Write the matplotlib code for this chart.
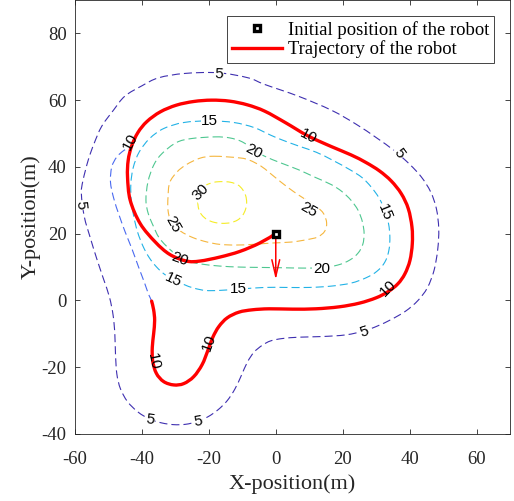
import matplotlib
matplotlib.use("Agg")
import matplotlib.pyplot as plt
import numpy as np
from matplotlib.lines import Line2D
from matplotlib.patches import PathPatch
from matplotlib.path import Path

plt.rcParams["lines.scale_dashes"] = False
plt.rcParams["axes.unicode_minus"] = False

# ----- datos -----

levels = [5, 10, 15, 20, 25, 30]
level_colors = ["#3e2fb0", "#4a6af0", "#22b2e6", "#4ec790", "#f5b63e", "#f5ec26"]

c5_x = [-17.2, -8.3, -3.3, 6.7, 16.6, 24.0, 30.0, 35.5, 40.0, 43.5, 46.3, 48.0, 48.7, 48.4, 47.3,
        45.3, 42.5, 38.8, 34.5, 30.5, 26.5, 21.0, 14.0, 7.0, 2.0, -1.5, -4.0, -6.5, -8.5, -10.3,
        -12.2, -14.5, -17.2, -20.2, -23.5, -27.0, -30.5, -34.0, -37.6, -41.2, -44.3, -46.4, -47.5,
        -47.9, -48.1, -48.6, -49.7, -51.5, -53.5, -55.5, -57.2, -58.1, -57.6, -56.0, -54.3, -52.0,
        -48.5, -45.1, -40.0, -35.0, -27.2, -17.2]
c5_y = [68.2, 66.7, 64.7, 61.2, 57.0, 52.8, 48.8, 44.8, 40.8, 37.0, 32.5, 27.5, 21.5, 15.3, 9.0,
        3.8, 0.0, -3.2, -5.7, -7.6, -9.1, -10.3, -10.8, -11.0, -11.4, -12.1, -13.4, -15.5, -18.5,
        -22.5, -26.5, -30.0, -32.7, -34.8, -36.3, -37.1, -37.2, -36.7, -35.6, -33.4, -30.3, -26.5,
        -22.0, -16.0, -10.0, -4.5, 1.0, 6.5, 12.5, 19.0, 25.0, 32.0, 36.0, 42.2, 47.0, 52.2, 57.0,
        61.2, 64.3, 66.7, 68.0, 68.2]

# contorno 10 en sentido horario desde donde el robot lo alcanza
c10_x = [-43.1, -41.2, -38.5, -34.5, -29.7, -24.5, -19.2, -13.8, -8.5, -3.3, 3.0, 9.6, 16.6, 22.5,
         27.0, 31.0, 34.5, 37.5, 39.6, 40.7, 40.8, 40.1, 38.6, 36.5, 33.5, 30.0, 25.0, 19.0, 12.0,
         5.0, -2.0, -7.0, -11.0, -14.5, -17.0, -18.8, -20.3, -22.0, -24.5, -27.5, -30.5, -33.5,
         -35.7, -36.8, -36.9, -36.5, -36.2, -36.5, -37.1,
         -38.0, -39.3, -41.0, -43.0, -45.0, -46.8, -48.4, -49.4, -49.0, -47.5, -45.3, -43.1]
c10_y = [46.2, 50.3, 53.6, 56.5, 58.5, 59.6, 60.0, 59.7, 58.6, 56.7, 53.2, 49.3, 46.1, 43.6,
         41.3, 38.8, 35.8, 32.0, 27.5, 22.0, 17.0, 12.0, 8.0, 5.0, 2.6, 0.8, -0.8, -1.9, -2.5,
         -2.6, -2.5, -2.8, -3.5, -5.2, -7.8, -11.0, -15.0, -19.2, -22.8, -24.9, -25.3, -24.3,
         -21.8, -18.0, -14.0, -10.0, -6.0, -2.8, -0.2,
         1.8, 5.5, 10.0, 15.5, 20.5, 25.5, 30.5, 35.5, 40.0, 43.0, 45.0, 46.2]
n_follow = 49  # puntos del contorno 10 que recorre el robot

c15_x = [-19.7, -12.5, -6.5, -1.5, 2.1, 7.0, 12.1, 17.0, 22.1, 25.8, 28.5, 30.8, 32.6, 33.7, 34.1,
         33.8, 32.6, 30.3, 27.0, 22.5, 16.6, 10.0, 3.0, -3.3, -11.0, -17.0, -21.0, -24.5, -27.5,
         -30.6, -33.2, -35.6, -37.8, -39.7, -41.3, -42.4, -43.2, -43.3, -42.6, -40.8, -37.7, -33.5,
         -27.5, -19.7]
c15_y = [53.8, 53.3, 51.8, 49.5, 48.0, 46.2, 44.4, 42.0, 39.2, 36.8, 34.0, 30.8, 27.0, 23.0, 19.0,
         15.0, 11.5, 8.8, 6.8, 5.2, 4.3, 3.9, 3.9, 3.9, 3.4, 3.0, 3.0, 3.7, 4.8, 6.3, 7.8, 10.0,
         12.8, 16.3, 20.5, 25.0, 30.0, 35.0, 39.8, 44.5, 48.5, 51.5, 53.3, 53.8]

c20_x = [-18.2, -13.8, -10.0, -6.8, -3.3, 1.5, 6.7, 11.5, 16.6, 19.8, 22.5, 24.6, 25.9, 26.4, 26.0,
         24.6, 22.1, 18.5, 13.6, 8.0, 2.0, -5.0, -10.7, -16.7, -22.2, -26.5, -29.5, -32.7, -35.0,
         -36.6, -38.1, -38.8, -38.2, -36.5, -34.0, -29.7, -25.2, -18.2]
c20_y = [49.0, 48.7, 47.5, 45.2, 43.2, 41.2, 39.2, 37.0, 34.7, 32.6, 30.0, 27.0, 23.5, 20.0, 16.8,
         14.2, 12.1, 10.6, 9.8, 9.7, 9.8, 9.9, 10.0, 10.3, 10.9, 11.8, 13.5, 16.3, 19.0, 22.3, 26.0,
         30.0, 35.5, 40.5, 44.0, 47.3, 48.5, 49.0]

c25_x = [-18.5, -10.8, -7.8, -4.5, -1.8, 1.5, 5.2, 8.5, 12.1, 14.3, 15.2, 14.6, 12.5, 9.2, 4.7, -1.3,
         -6.8, -12.0, -16.7, -20.5, -24.7, -28.5, -31.2, -32.2, -32.2, -31.7, -29.5, -26.7, -22.7, -18.5]
c25_y = [43.2, 42.7, 42.0, 40.3, 38.2, 35.5, 32.7, 30.5, 28.2, 26.0, 23.2, 20.7, 19.0, 18.2, 17.5, 17.2,
         16.8, 16.6, 16.8, 17.5, 18.8, 20.8, 23.5, 27.0, 31.0, 35.3, 38.5, 40.7, 42.6, 43.2]

c30_x = [-8.7, -9.0, -9.9, -11.3, -13.5, -16.0, -18.5, -20.7, -22.3, -23.1, -23.3, -23.0, -22.1, -20.5,
         -18.4, -16.0, -13.5, -11.4, -9.9, -9.0, -8.7]
c30_y = [29.4, 31.4, 33.2, 34.6, 35.4, 35.6, 35.4, 34.6, 33.2, 31.4, 29.4, 27.3, 25.6, 24.2, 23.4, 23.1,
         23.3, 24.1, 25.5, 27.4, 29.4]

contour_x = [c5_x, c10_x, c15_x, c20_x, c25_x, c30_x]
contour_y = [c5_y, c10_y, c15_y, c20_y, c25_y, c30_y]

# etiquetas de los contornos: texto, x, y, rotacion
label_text = ["5", "5", "5", "5", "5", "5",
              "10", "10", "10", "10", "10",
              "15", "15", "15", "15",
              "20", "20", "20",
              "25", "25", "30"]
label_x = [-17.0, -58.4, 36.8, 26.5, -23.2, -37.6,
           -43.6, 9.6, 33.5, -19.8, -36.6,
           -19.7, 32.7, -11.2, -30.6,
           -6.5, 13.6, -28.7,
           -30.6, 9.8, -22.4]
label_y = [67.9, 28.5, 44.2, -9.3, -36.3, -35.8,
           47.7, 49.1, 3.8, -12.5, -18.3,
           53.7, 26.5, 3.5, 6.0,
           44.7, 9.4, 12.3,
           22.8, 27.3, 32.3]
label_rot = [-3, -85, -55, 18, 8, -8,
             62, -28, 45, 70, -78,
             0, -68, 0, -25,
             -28, 0, -20,
             -60, -30, 45]

# trayectoria del robot: aproximacion desde el punto inicial
start_x, start_y = 0.0, 20.0
approach_x = [0.0, -4.8, -10.7, -16.7, -22.7, -26.7, -31.7, -36.0, -40.5, -43.5, -44.3, -44.1]
approach_y = [20.0, 17.2, 14.7, 13.0, 11.8, 11.8, 13.8, 17.5, 23.0, 30.0, 37.0, 42.0]
heading_dx, heading_dy = 0.0, -13.8

traj_x = approach_x + c10_x[:n_follow]
traj_y = approach_y + c10_y[:n_follow]


# ----- trazo suave (Catmull-Rom -> Bezier) -----

def smooth_path(xs, ys, closed):
    pts = np.column_stack([xs, ys]).astype(float)
    if closed and np.allclose(pts[0], pts[-1]):
        pts = pts[:-1]
    n = len(pts)
    verts = [pts[0]]
    codes = [Path.MOVETO]
    nseg = n if closed else n - 1
    for i in range(nseg):
        if closed:
            p0, p1, p2, p3 = pts[(i - 1) % n], pts[i], pts[(i + 1) % n], pts[(i + 2) % n]
        else:
            p0, p1 = pts[max(i - 1, 0)], pts[i]
            p2, p3 = pts[i + 1], pts[min(i + 2, n - 1)]
        verts += [p1 + (p2 - p0) / 6, p2 - (p3 - p1) / 6, p2]
        codes += [Path.CURVE4] * 3
    return Path(verts, codes)


# ----- figura -----

fig = plt.figure(figsize=(5.14, 5.01), dpi=100)
ax = fig.add_axes([75 / 514, 67 / 501, 435 / 514, 434 / 501])

for xs, ys, col in zip(contour_x, contour_y, level_colors):
    ax.add_patch(PathPatch(smooth_path(xs, ys, True), fc="none", ec=col, lw=0.8,
                           ls=(0, (5.8, 2.9)), zorder=1))

lab_font = dict(fontsize=11, family="Liberation Sans", ha="center", va="center",
                rotation_mode="anchor")

# hueco blanco detras de cada etiqueta (por debajo de la trayectoria)
for t, x, y, r in zip(label_text, label_x, label_y, label_rot):
    ax.text(x, y, t, rotation=r, color="none", zorder=2,
            bbox=dict(boxstyle="square,pad=0.05", fc="white", ec="none"), **lab_font)

ax.add_patch(PathPatch(smooth_path(traj_x, traj_y, False), fc="none", ec="#ff0000", lw=2.4,
                       joinstyle="round", capstyle="round", zorder=3))

for t, x, y, r in zip(label_text, label_x, label_y, label_rot):
    ax.text(x, y, t, rotation=r, color="black", zorder=5, **lab_font)

ax.annotate("", xy=(start_x + heading_dx, start_y + heading_dy), xytext=(start_x, start_y),
            arrowprops=dict(arrowstyle="->,head_length=12,head_width=2.8", color="#ff0000",
                            lw=1.1, shrinkA=0, shrinkB=0, mutation_scale=1), zorder=4)
ax.plot([start_x], [start_y], "s", ms=4.9, mew=2.4, mec="black", mfc="white", zorder=6)

ax.set_xlim(-60, 70)
ax.set_ylim(-40, 90)
ax.set_xticks([-60, -40, -20, 0, 20, 40, 60])
ax.set_yticks([-40, -20, 0, 20, 40, 60, 80])

axis_color = "#262626"
for s in ax.spines.values():
    s.set_color(axis_color)
    s.set_linewidth(0.6)
ax.tick_params(direction="in", length=3.6, width=0.6, top=True, right=True,
               colors=axis_color, labelsize=13.5)
ax.tick_params(axis="x", pad=12.5)
ax.tick_params(axis="y", pad=6)
for lab in ax.get_xticklabels() + ax.get_yticklabels():
    lab.set_family("Liberation Serif")

ax.set_xlabel("X-position(m)", family="Liberation Serif", fontsize=16, color=axis_color, labelpad=4)
ax.set_ylabel("Y-position(m)", family="Liberation Serif", fontsize=16, color=axis_color, labelpad=1)

handles = [
    Line2D([], [], ls="none", marker="s", ms=4.9, mew=2.4, mec="black", mfc="white"),
    Line2D([], [], color="#ff0000", lw=2.4),
]
leg = ax.legend(handles, ["Initial position of the robot", "Trajectory of the robot"],
                loc="upper right", bbox_to_anchor=(0.963, 0.963), fancybox=False,
                framealpha=1, edgecolor=axis_color, handlelength=2.7, handletextpad=0.3,
                borderpad=0.25, labelspacing=0.1, borderaxespad=0,
                prop={"family": "Liberation Serif", "size": 13.4})
leg.get_frame().set_linewidth(0.6)

fig.savefig("out.png", dpi=100)
